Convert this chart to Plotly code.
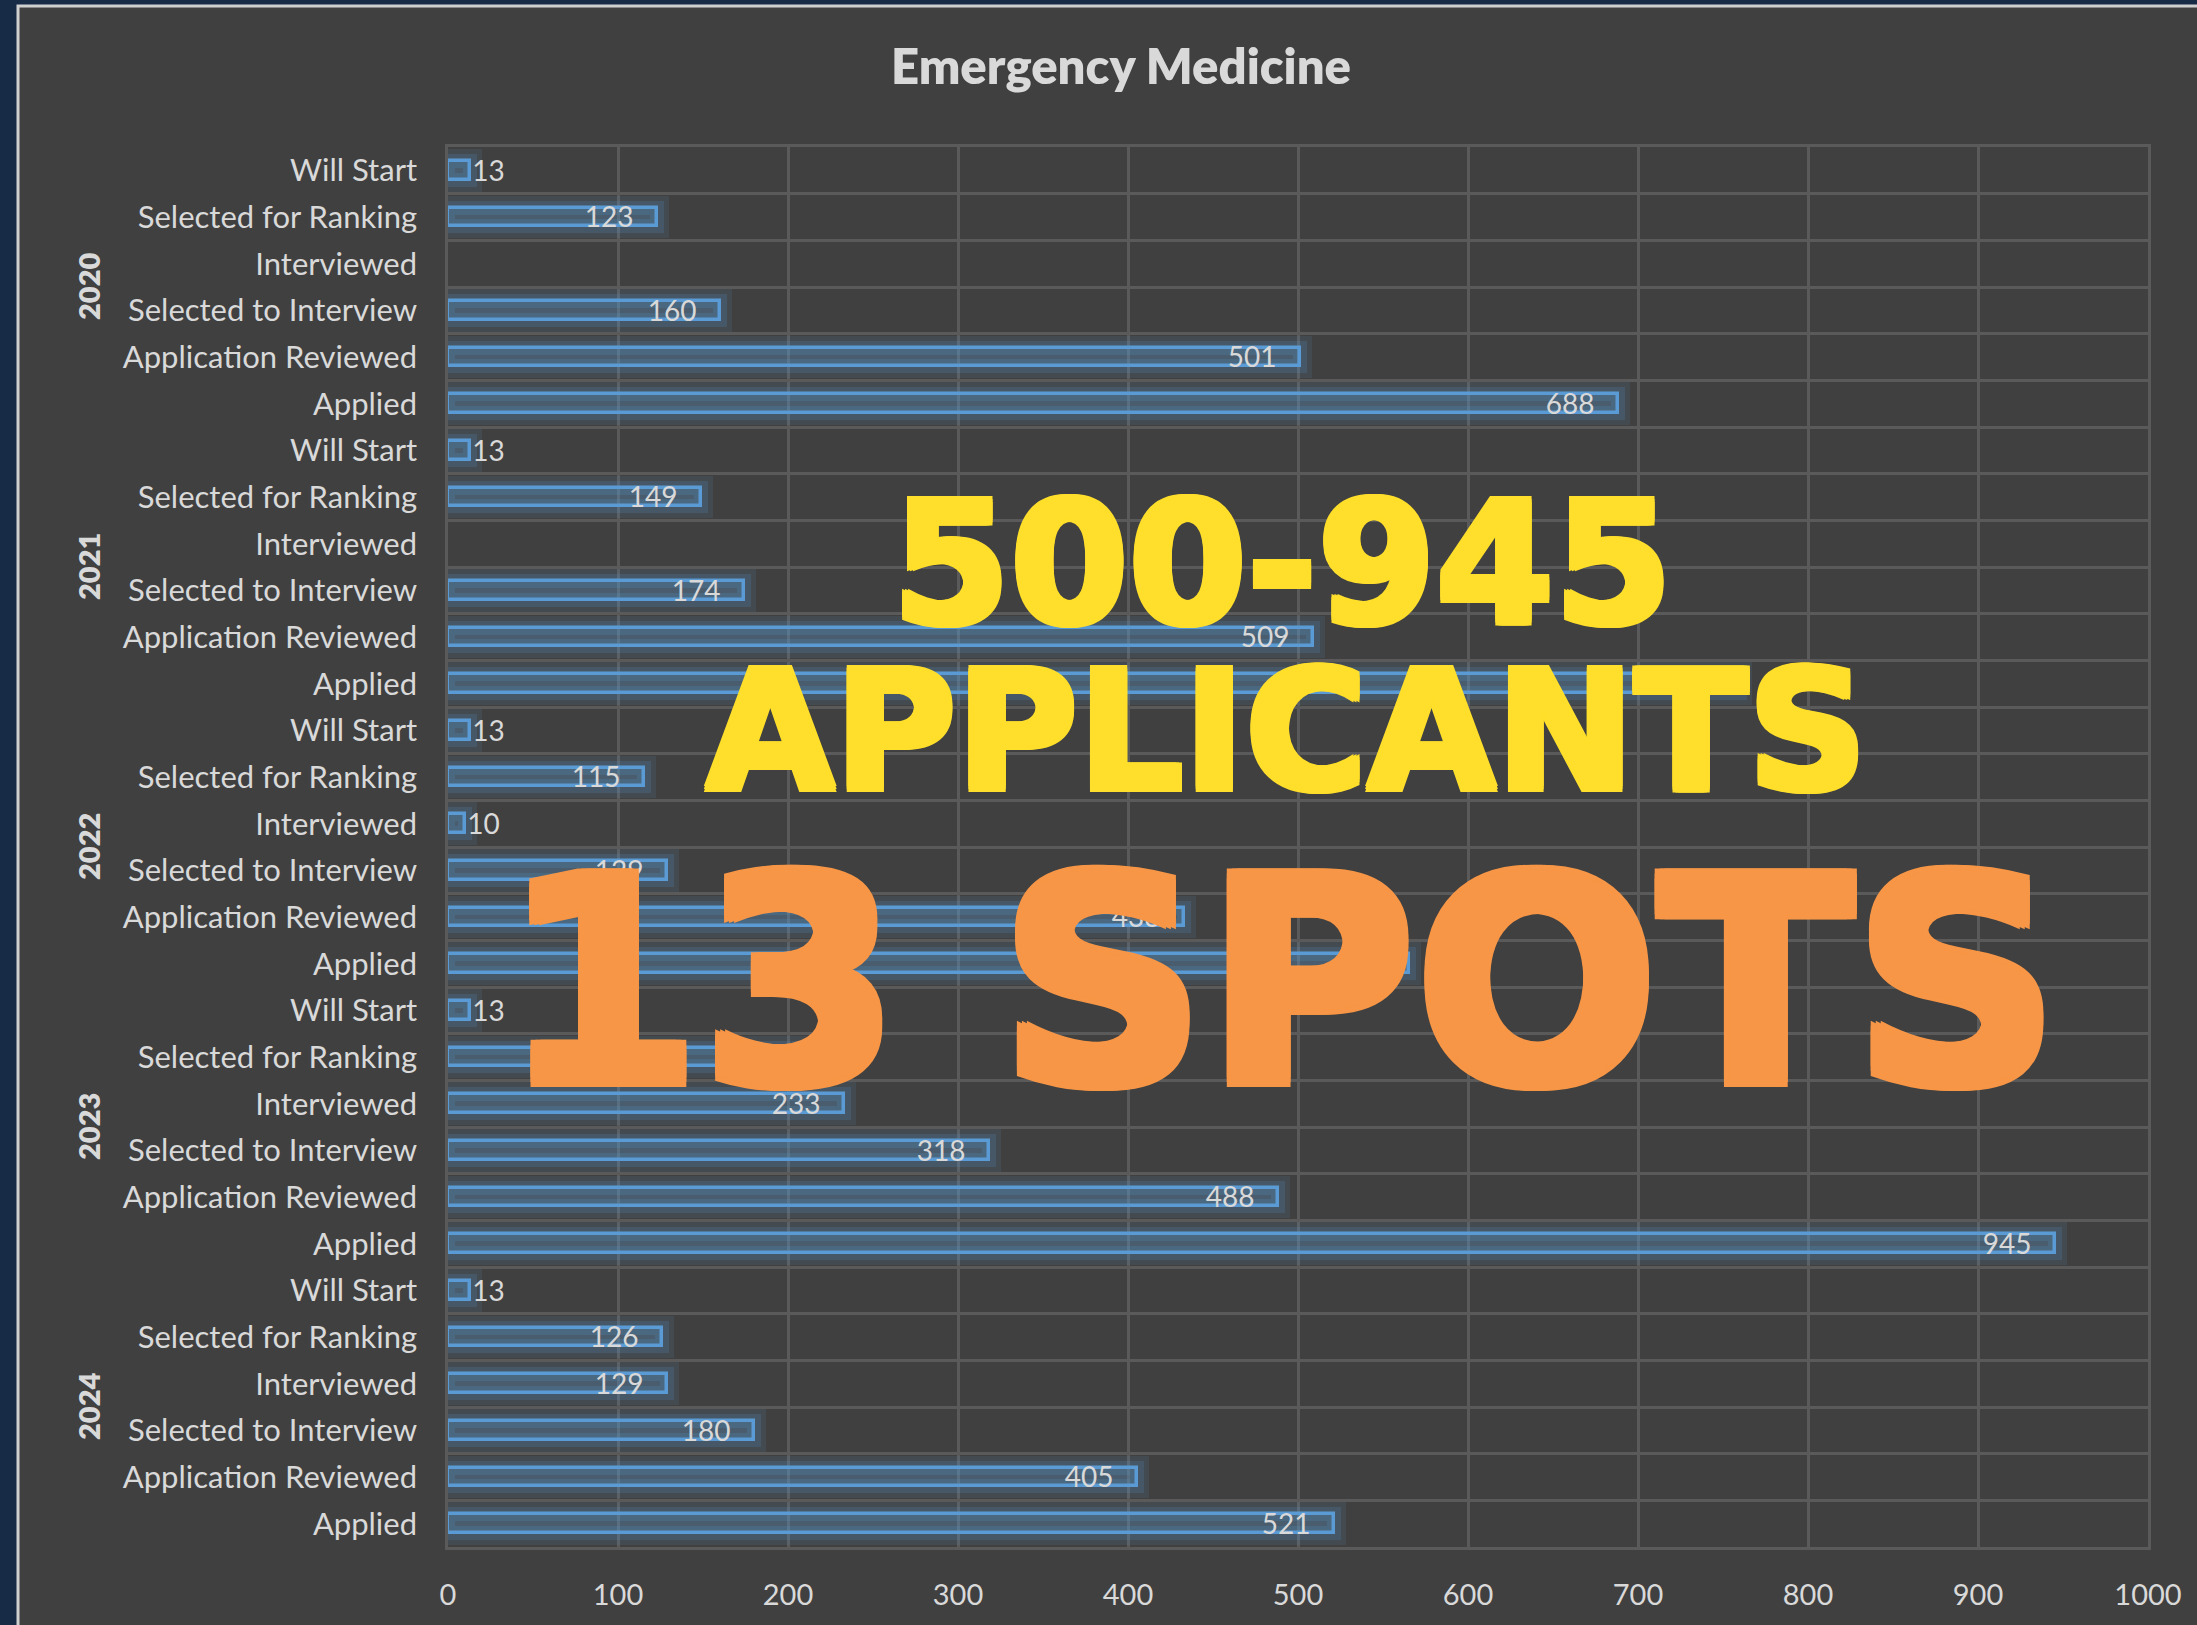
import plotly.graph_objects as go

# ---------------- data ----------------
years = ["2020", "2021", "2022", "2023", "2024"]
stages_top_to_bottom = ["Will Start", "Selected for Ranking", "Interviewed",
                        "Selected to Interview", "Application Reviewed", "Applied"]
# values listed in the same order as stages_top_to_bottom
vals_2020 = [13, 123, None, 160, 501, 688]
vals_2021 = [13, 149, None, 174, 509, 760]
vals_2022 = [13, 115, 10, 129, 433, 565]
vals_2023 = [13, 230, 233, 318, 488, 945]
vals_2024 = [13, 126, 129, 180, 405, 521]
x_ticks = [0, 100, 200, 300, 400, 500, 600, 700, 800, 900, 1000]

title_text = "Emergency Medicine"
overlay_1 = "500-945"
overlay_2 = "APPLICANTS"
overlay_3 = "13 SPOTS"

# ---------------- build rows ----------------
all_vals = [vals_2020, vals_2021, vals_2022, vals_2023, vals_2024]
values, labels, rows = [], [], []
for g, yv in enumerate(all_vals):
    for s, v in zip(stages_top_to_bottom, yv):
        rows.append(len(rows))
        labels.append(s)
        values.append(v)

W, H = 2197, 1625
L, R, T, B = 448, 2148, 147, 1547
pw, ph = R - L, B - T

def px2x(px):
    return (px - L) / pw

def py2y(py):
    return (B - py) / ph

FONT = "Lato"
TXT = "#d9d9d9"
GRID = "#5a5a5a"
BLUE = "#5b9bd5"
BIG = "DejaVu Sans"

def thick(c, d):
    parts = []
    for dx, dy in [(d, 0), (-d, 0), (0, d), (0, -d), (d, d), (-d, -d), (d, -d), (-d, d)]:
        parts.append(f"{dx}px {dy}px 0 {c}")
    return ", ".join(parts)

texts, tpos = [], []
for v in values:
    if v is None:
        texts.append("")
        tpos.append("none")
    elif v < 50:
        texts.append(str(v))
        tpos.append("outside")
    else:
        texts.append(f"{v}\u2007\u2009")
        tpos.append("inside")

fig = go.Figure()

# glow layers
for lw, a in [(24, 0.11), (14, 0.18)]:
    fig.add_trace(go.Bar(
        x=values, y=rows, orientation="h", width=0.4,
        marker=dict(color="rgba(91,155,213,0)",
                    line=dict(color=f"rgba(91,155,213,{a})", width=lw)),
        hoverinfo="skip", showlegend=False))

fig.add_trace(go.Bar(
    x=values, y=rows, orientation="h", width=0.4,
    marker=dict(color="rgba(91,155,213,0.24)", line=dict(color=BLUE, width=3.5)),
    text=texts, textposition=tpos, insidetextanchor="end",
    constraintext="none", cliponaxis=False,
    textfont=dict(family=FONT, size=28, color=TXT),
    showlegend=False))

annotations = []
# year labels
for g, yr in enumerate(years):
    n = len(stages_top_to_bottom)
    annotations.append(dict(
        xref="paper", yref="y", x=px2x(88), y=g * n + (n - 1) / 2,
        text=yr, textangle=-90, showarrow=False,
        font=dict(family=FONT, size=29, color=TXT, weight=800),
        xanchor="center", yanchor="middle"))

# big overlay texts
annotations += [
    dict(xref="paper", yref="paper", x=px2x(1282), y=py2y(564), text=overlay_1,
         showarrow=False, xanchor="center", yanchor="middle",
         font=dict(family=BIG, size=170, color="#ffdf2b", weight="bold",
                   shadow=thick("#ffdf2b", 3))),
    dict(xref="paper", yref="paper", x=px2x(1286), y=py2y(731), text=overlay_2,
         showarrow=False, xanchor="center", yanchor="middle",
         font=dict(family=BIG, size=166, color="#ffdf2b", weight="bold",
                   shadow=thick("#ffdf2b", 3))),
    dict(xref="paper", yref="paper", x=px2x(1280), y=py2y(983), text=overlay_3,
         showarrow=False, xanchor="center", yanchor="middle",
         font=dict(family=BIG, size=286, color="#f79646", weight="bold",
                   shadow=thick("#f79646", 5))),
]

fig.update_layout(
    width=W, height=H,
    margin=dict(l=L, r=W - R, t=T, b=H - B, pad=0),
    paper_bgcolor="#172a46",
    plot_bgcolor="rgba(0,0,0,0)",
    barmode="overlay",
    bargap=0,
    title=dict(text=title_text, x=1121 / W, y=1 - 67 / H,
               xanchor="center", yanchor="middle",
               font=dict(family=FONT, size=49, color=TXT, weight=800)),
    xaxis=dict(range=[0, 1000], tickvals=x_ticks, ticktext=[str(t) for t in x_ticks],
               showgrid=True, gridcolor=GRID, gridwidth=2.5, zeroline=False,
               showline=True, mirror=True, linecolor=GRID, linewidth=2.5,
               ticks="", ticklabelstandoff=20,
               tickfont=dict(family=FONT, size=29, color=TXT)),
    yaxis=dict(range=[len(rows) - 0.5, -0.5], tickmode="array", tickvals=rows,
               ticktext=labels, showgrid=False, zeroline=False,
               showline=True, mirror=True, linecolor=GRID, linewidth=2.5,
               ticks="", ticklabelstandoff=22,
               tickfont=dict(family=FONT, size=31, color=TXT),
               minor=dict(tickmode="linear", tick0=-0.5, dtick=1, showgrid=True,
                          gridcolor=GRID, gridwidth=2.5, ticks="")),
    shapes=[dict(type="rect", xref="paper", yref="paper", layer="below",
                 x0=px2x(18), x1=px2x(W + 10), y0=py2y(H + 10), y1=py2y(6),
                 fillcolor="#404040", line=dict(color="#cfcfcf", width=3))],
    annotations=annotations,
)

fig.write_html(
    "out.html",
    config={"displayModeBar": False},
    post_script="document.body.style.margin='0';document.body.style.background='#172a46';",
)
